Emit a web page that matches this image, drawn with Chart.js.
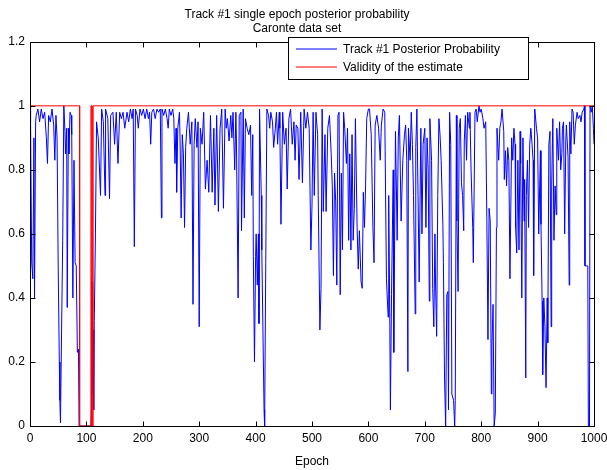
<!DOCTYPE html>
<html lang="en">
<head>
<meta charset="UTF-8" />
<title>Track #1 single epoch posterior probability</title>
<script src="https://cdn.jsdelivr.net/npm/chart.js"></script>
<style>
  html,body{margin:0;padding:0;background:#fff;}
  #wrap{width:607px;height:470px;position:relative;}
</style>
</head>
<body>
<div id="wrap"><canvas id="myChart"></canvas></div>
<script>
/* ---------- data: [epoch, posterior] ---------- */
const trackPosterior = [
  [0,1.0],[1,0.95],[3,0.51],[5,0.46],[7,0.9],[8,0.40],[10,0.95],[11,0.97],[14,0.99],[17,0.95],
  [20,0.99],[23,0.96],[26,0.98],[29,0.90],[31,0.82],[33,0.97],[36,0.95],[39,0.99],[42,0.94],[44,0.83],
  [46,0.97],[48,0.90],[50,0.50],[52,0.20],[53,0.08],[54,0.01],[56,0.30],[58,0.58],[60,1.0],[62,0.92],
  [63,0.85],[65,0.93],[66,0.37],[68,0.93],[69,0.85],[71,0.98],[73,0.97],[74,0.91],[76,0.40],[78,0.83],
  [80,0.51],[82,0.50],[84,0.23],[86,0.24],[87,0.0],[90,0.0],[95,0.0],[100,0.0],[105,0.0],[108,0.0],
  [109,0.05],[110,0.45],[111,0.1],[112,0.30],[113,0.05],[114,0.33],[116,0.6],[118,0.95],[121,0.90],[125,0.72],
  [127,0.99],[130,0.95],[133,0.72],[134,0.99],[138,0.96],[141,0.71],[143,0.97],[147,0.98],[150,0.88],[153,0.98],
  [156,0.82],[159,0.98],[162,0.96],[165,0.98],[168,0.93],[172,0.98],[175,0.95],[178,0.99],[181,0.96],[183,0.99],
  [185,0.56],[187,0.99],[190,0.97],[192,0.93],[195,0.99],[198,0.97],[201,0.99],[204,0.96],[207,0.99],[210,0.96],
  [212,0.98],[214,0.88],[216,0.98],[219,0.99],[222,0.96],[225,0.99],[228,0.98],[231,0.99],[233,0.65],[234,0.99],
  [237,0.97],[240,0.99],[243,0.96],[245,0.93],[247,0.99],[250,0.97],[253,0.99],[255,0.96],[257,0.82],[259,0.93],
  [260,0.73],[262,0.93],[265,0.98],[266,0.90],[268,0.65],[270,0.91],[272,0.85],[274,0.62],[276,0.87],[278,0.93],
  [281,0.98],[284,0.88],[287,0.95],[289,0.38],[291,0.88],[293,0.96],[296,0.87],[298,0.95],[300,0.31],[302,0.93],
  [305,0.88],[308,0.98],[311,0.74],[314,0.83],[317,0.73],[320,0.97],[323,0.73],[326,0.93],[328,0.69],[331,0.97],
  [334,0.67],[337,0.93],[340,0.99],[343,0.68],[346,0.99],[348,0.93],[350,0.96],[353,0.89],[356,0.97],[358,0.90],
  [360,0.98],[363,0.80],[365,0.98],[366,0.89],[369,0.40],[371,0.97],[374,0.98],[375,0.61],[378,0.99],[380,0.65],
  [382,0.96],[385,0.93],[388,0.91],[391,0.94],[393,0.72],[395,0.91],[396,0.53],[398,0.20],[400,0.53],[401,0.60],
  [403,0.44],[405,0.60],[406,0.32],[407,0.99],[410,0.72],[411,0.55],[413,0.30],[415,0.05],[416,0.0],[418,0.51],
  [420,0.99],[423,0.97],[425,0.93],[427,0.98],[430,0.95],[432,0.87],[435,0.93],[437,0.98],[439,0.88],[442,0.98],
  [443,0.93],[445,0.63],[448,0.98],[451,0.88],[454,0.93],[456,0.74],[459,0.96],[462,0.99],[465,0.88],[468,0.95],
  [470,0.83],[472,0.94],[475,0.93],[477,0.77],[480,0.98],[483,0.76],[486,0.99],[489,0.93],[492,0.98],[495,0.93],
  [498,0.55],[500,0.69],[502,0.98],[504,0.72],[507,0.98],[510,0.91],[511,0.72],[514,0.30],[516,0.43],[518,0.99],
  [520,0.67],[523,0.91],[525,0.67],[528,0.93],[531,0.97],[534,0.85],[536,0.75],[538,0.47],[540,0.79],[542,0.70],
  [544,0.44],[546,0.97],[548,0.98],[550,0.41],[552,0.79],[554,0.55],[556,0.98],[558,0.93],[561,0.82],[563,0.93],
  [565,0.58],[567,0.85],[569,0.55],[571,0.91],[573,0.58],[575,0.68],[577,0.96],[580,0.62],[582,0.49],[584,0.61],
  [587,0.45],[589,0.43],[591,0.73],[593,0.62],[595,0.75],[597,0.96],[600,0.99],[602,0.99],[605,0.91],[608,0.62],
  [610,0.51],[612,0.94],[615,0.97],[618,0.93],[621,0.83],[623,0.94],[626,0.99],[629,0.98],[632,0.46],[635,0.34],
  [636,0.72],[638,0.31],[639,0.05],[641,0.41],[644,0.80],[645,0.23],[648,0.92],[650,0.70],[651,0.58],[653,0.90],
  [655,0.97],[658,0.64],[661,0.83],[664,0.91],[666,0.94],[668,0.83],[670,0.17],[671,0.93],[674,0.83],[676,0.98],
  [678,0.88],[680,0.72],[683,0.35],[684,0.87],[686,0.99],[688,0.72],[690,0.45],[693,0.93],[695,0.60],[697,0.88],
  [700,0.93],[702,0.62],[704,0.90],[706,0.80],[708,0.39],[709,0.96],[712,0.83],[714,0.43],[716,0.31],[718,0.60],
  [719,0.45],[721,0.28],[723,0.72],[725,0.96],[727,0.91],[729,0.83],[732,0.63],[733,0.51],[735,0.15],[737,0.0],
  [739,0.41],[741,0.42],[742,0.05],[744,0.98],[746,0.88],[748,0.10],[751,0.08],[753,0.0],[754,0.08],[756,0.97],
  [757,0.64],[759,0.42],[761,0.93],[763,0.96],[765,0.76],[767,0.72],[769,0.61],[770,0.89],[772,0.97],[774,0.83],
  [776,0.98],[779,0.93],[780,0.98],[782,0.80],[785,0.62],[786,0.51],[789,0.98],[791,0.99],[793,0.95],[796,1.0],
  [798,0.98],[800,0.99],[803,0.96],[805,0.93],[808,0.95],[810,0.65],[812,0.27],[814,0.68],[816,0.64],[818,0.10],
  [819,0.25],[821,0.38],[823,0.0],[825,0.04],[827,0.62],[828,0.93],[831,0.83],[833,0.93],[835,0.95],[837,0.99],
  [840,0.92],[841,0.77],[843,0.86],[845,0.75],[847,0.87],[849,0.83],[851,0.46],[854,0.90],[856,0.83],[858,0.93],
  [860,0.88],[861,0.62],[863,0.54],[865,0.83],[867,0.55],[869,0.92],[870,0.82],[872,0.40],[874,0.90],[876,0.64],
  [877,0.77],[879,0.15],[880,0.72],[882,0.83],[884,0.62],[886,0.88],[888,0.93],[889,0.91],[892,0.83],[893,0.47],
  [895,0.99],[898,0.93],[900,0.90],[902,0.60],[905,0.86],[906,0.63],[908,0.39],[909,0.16],[911,0.40],[913,0.31],
  [915,0.12],[917,0.40],[918,0.26],[920,0.88],[922,0.92],[924,0.31],[925,0.75],[927,0.96],[929,0.58],[931,0.75],
  [933,0.66],[934,0.93],[937,0.83],[939,0.95],[941,0.80],[943,0.85],[944,0.93],[946,0.95],[948,0.60],[950,0.89],
  [951,0.94],[954,0.84],[956,0.44],[957,0.95],[959,0.85],[961,0.99],[963,0.98],[965,0.88],[967,0.94],[970,0.98],
  [972,0.96],[975,0.97],[977,0.95],[979,0.98],[982,0.99],[983,1.0],[984,0.50],[989,0.50],[990,0.0],[992,0.0],
  [993,1.0],[995,0.98],[997,1.0],[999,0.93],[1000,0.88]
];

/* validity of the estimate: step changes [epoch, flag] */
const validitySteps = [
  [0,1],[88,1],[88,0],[108,0],[108,1],[110,1],[110,0],[112,0],[112,1],[1000,1]
];

const seriesLabels = ['Track #1 Posterior Probability','Validity of the estimate'];
const seriesColors = ['rgb(0,0,255)','rgb(255,0,0)'];
const titleLines   = ['Track #1 single epoch posterior probability','Caronte data set'];
const xTickLabels  = ['0','100','200','300','400','500','600','700','800','900','1000'];
const yTickLabels  = ['0','0.2','0.4','0.6','0.8','1','1.2'];

const FONT = "'Liberation Sans', Arial, Helvetica, sans-serif";

/* ---------- MATLAB-like axes box, inward ticks and legend ---------- */
const matlabAxes = {
  id:'matlabAxes',
  afterDraw(chart){
    const c = chart.ctx, a = chart.chartArea, x = chart.scales.x, y = chart.scales.y;
    const L=Math.round(a.left)+0.5, R=Math.round(a.right)+0.5;
    const T=Math.round(a.top)+0.5,  B=Math.round(a.bottom)+0.5;
    c.save();
    c.strokeStyle='#000'; c.lineWidth=1;
    c.strokeRect(L,T,R-L,B-T);
    c.beginPath();
    x.ticks.forEach(t=>{
      const px=Math.round(x.getPixelForValue(t.value))+0.5;
      c.moveTo(px,B); c.lineTo(px,B-5);
      c.moveTo(px,T); c.lineTo(px,T+5);
    });
    y.ticks.forEach(t=>{
      const py=Math.round(y.getPixelForValue(t.value))+0.5;
      c.moveTo(L,py); c.lineTo(L+5,py);
      c.moveTo(R,py); c.lineTo(R-5,py);
    });
    c.stroke();

    // legend box
    const bx=288.5, by=37.5, bw=240, bh=42;
    c.fillStyle='#fff';
    c.fillRect(bx,by,bw,bh);
    c.strokeStyle='#000';
    c.strokeRect(bx,by,bw,bh);
    c.font='12px '+FONT;
    c.textBaseline='middle';
    seriesLabels.forEach((lab,i)=>{
      const ly=49+i*18;
      c.beginPath();
      c.strokeStyle=seriesColors[i];
      c.lineWidth=1.2;
      c.moveTo(296,ly); c.lineTo(337,ly);
      c.stroke();
      c.fillStyle='#000';
      c.fillText(lab,343,ly+0.5);
    });
    c.restore();
  }
};

const chart = new Chart(document.getElementById('myChart'),{
  type:'line',
  data:{datasets:[
    {label:seriesLabels[0], data:trackPosterior.map(p=>({x:p[0],y:p[1]})),
     borderColor:seriesColors[0], borderWidth:1, pointRadius:0, tension:0, fill:false, order:0},
    {label:seriesLabels[1], data:validitySteps.map(p=>({x:p[0],y:p[1]})),
     borderColor:seriesColors[1], borderWidth:1, pointRadius:0, tension:0, fill:false, order:-1}
  ]},
  options:{
    responsive:true, maintainAspectRatio:false, animation:false, devicePixelRatio:1,
    layout:{padding:{left:0,right:13,top:0,bottom:0}},
    plugins:{
      legend:{display:false},
      tooltip:{enabled:false},
      title:{display:true, text:titleLines, color:'#000',
             font:{family:FONT,size:12,weight:'normal',lineHeight:1.2},
             padding:{top:7,bottom:6}}
    },
    scales:{
      x:{type:'linear', min:0, max:1000,
         grid:{display:false, drawTicks:false}, border:{display:false},
         ticks:{stepSize:100, color:'#000', padding:5, maxRotation:0, autoSkip:false,
                font:{family:FONT,size:12}, callback:(v,i)=>xTickLabels[i]},
         title:{display:true, text:'Epoch', color:'#000', font:{family:FONT,size:12},
                padding:{top:0,bottom:1}},
         afterFit:s=>{s.height=44; s.paddingLeft=0; s.paddingRight=0;}},
      y:{min:0, max:1.2,
         grid:{display:false, drawTicks:false}, border:{display:false},
         ticks:{stepSize:0.2, color:'#000', padding:5, autoSkip:false,
                font:{family:FONT,size:12}, callback:(v,i)=>yTickLabels[i]},
         afterFit:s=>{s.width=30;}}
    }
  },
  plugins:[matlabAxes]
});
</script>
</body>
</html>
